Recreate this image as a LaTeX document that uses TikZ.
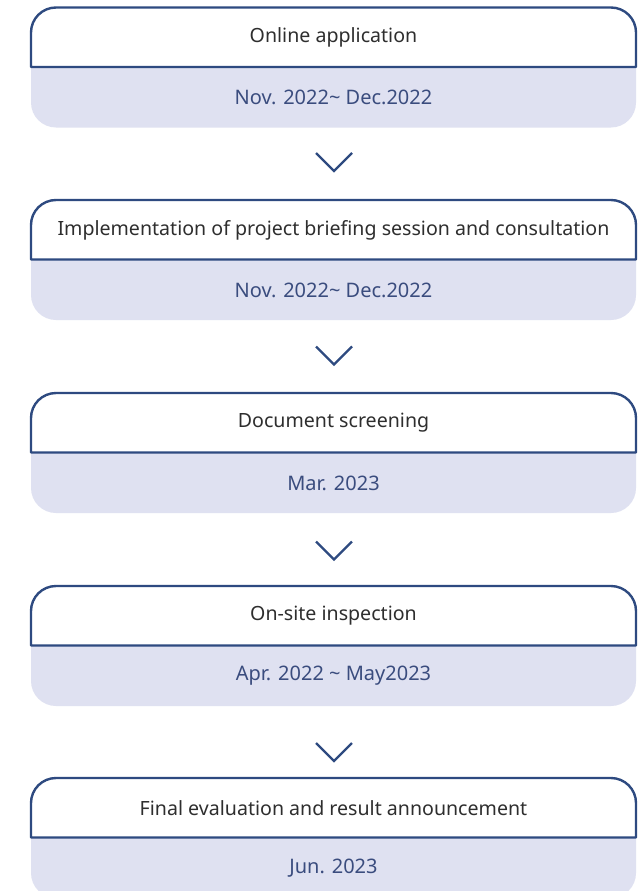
\documentclass[tikz,border=0pt]{standalone}
\usepackage{fontspec}
\setmainfont{Noto Sans}
\definecolor{navy}{HTML}{2E4A80}
\definecolor{lav}{HTML}{DFE1F1}
\definecolor{datec}{HTML}{3A4C7E}
\definecolor{titlec}{HTML}{2E2E2E}
\tikzset{
  lavfill/.style={fill=lav, rounded corners=25},
  topbox/.style={fill=white, draw=navy, line width=2.4, line join=round},
  titletext/.style={text=titlec, font=\fontsize{19.6}{23}\selectfont, inner sep=0},
  datetext/.style={text=datec, font=\fontsize{20}{23}\selectfont, inner sep=0},
  chev/.style={draw=navy, line width=2.3}
}
\newcommand\stagebox[4]{% name, top y, title, date
  \fill[lavfill] (31,#2+30) rectangle (636,#2+120);
  \path[topbox] (31,#2+59.5) [rounded corners=25] -- (31,#2) -- (636,#2) [sharp corners] -- (636,#2+59.5) -- cycle;
  \node[titletext] (#1t) at (333.5,#2+30) {#3};
  \node[datetext] (#1d) at (333.5,#2+90) {#4};
}
\begin{document}
\begin{tikzpicture}[x=1pt,y=-1pt]
\useasboundingbox (0,0) rectangle (642,891);
\fill[white] (0,0) rectangle (642,891);
\stagebox{s1}{7.5}{Online application}{Nov. 2022\textasciitilde{} Dec.2022}
\stagebox{s2}{200}{Implementation of project briefing session and consultation}{Nov. 2022\textasciitilde{} Dec.2022}
\stagebox{s3}{393}{Document screening}{Mar. 2023}
\stagebox{s4}{586}{On-site inspection}{Apr. 2022 \textasciitilde{} May2023}
\stagebox{s5}{778}{Final evaluation and result announcement}{Jun. 2023}
\coordinate (k1) at (334,162);
\coordinate (k2) at (334,355.5);
\coordinate (k3) at (334,550.5);
\coordinate (k4) at (334,752);
\foreach \k in {k1,k2,k3,k4}{
  \draw[chev] ([shift={(-18,-9)}]\k) -- ([shift={(0,9)}]\k) -- ([shift={(18,-9)}]\k);
}
\end{tikzpicture}
\end{document}
